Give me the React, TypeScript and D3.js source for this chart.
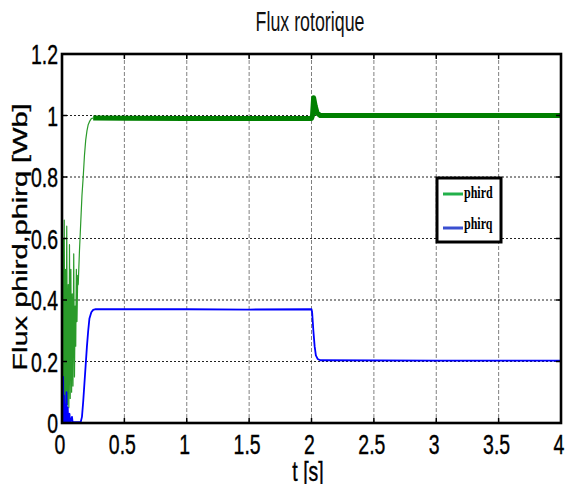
import React from "react";
import { scaleLinear, line } from "d3";

const width = 565;
const height = 484;

// t [s] / flux [Wb]
const phirdT = [0, 0.004, 0.008, 0.013, 0.018, 0.023, 0.028, 0.033, 0.038, 0.044, 0.05, 0.055, 0.06, 0.066, 0.071, 0.077, 0.082, 0.088, 0.094, 0.1, 0.105, 0.11, 0.115, 0.12, 0.126, 0.13, 0.14, 0.15, 0.16, 0.17, 0.18, 0.19, 0.2, 0.21, 0.22, 0.235, 0.25];
const phirdV = [0.72, 0.05, 0.6, 0.02, 0.66, 0.04, 0.5, 0.03, 0.64, 0.06, 0.45, 0.05, 0.58, 0.08, 0.5, 0.1, 0.42, 0.12, 0.55, 0.15, 0.38, 0.25, 0.5, 0.33, 0.48, 0.45, 0.56, 0.65, 0.74, 0.8, 0.87, 0.92, 0.95, 0.97, 0.98, 0.99, 0.992];
const phirdSteadyT = [0.25, 0.5, 1, 1.5, 2.0, 2.008, 2.017, 2.03, 2.045, 2.07, 2.5, 3, 3.5, 4];
const phirdSteadyV = [0.992, 0.991, 0.99, 0.99, 0.99, 1.0, 1.058, 1.03, 1.008, 1.0, 1.0, 1.0, 1.0, 1.0];

const phirqT = [0, 0.003, 0.006, 0.009, 0.012, 0.016, 0.02, 0.025, 0.03, 0.036, 0.04, 0.046, 0.05, 0.06, 0.065, 0.08, 0.085, 0.15, 0.16, 0.17, 0.18, 0.19, 0.2, 0.21, 0.22, 0.235, 0.25, 0.27, 1, 1.5, 2.0, 2.005, 2.015, 2.025, 2.035, 2.05, 2.07, 3, 4];
const phirqV = [0, 0.12, 0.0, 0.15, 0.01, 0.09, 0, 0.06, 0, 0.1, 0, 0.05, 0, 0.03, 0, 0.02, 0.003, 0.003, 0.02, 0.07, 0.13, 0.19, 0.25, 0.3, 0.34, 0.36, 0.368, 0.37, 0.37, 0.369, 0.37, 0.36, 0.3, 0.25, 0.22, 0.208, 0.204, 0.203, 0.203];

const xTicks = [0, 0.5, 1, 1.5, 2, 2.5, 3, 3.5, 4];
const yTicks = [0, 0.2, 0.4, 0.6, 0.8, 1, 1.2];

const seriesNames = ["phird", "phirq"];
const legendColors = ["#22b04a", "#3a4fd0"];

const margin = { top: 54, right: 4, bottom: 61, left: 62 };

const zip = (ts: number[], vs: number[]) => ts.map((t, i) => [t, vs[i]] as [number, number]);

export default function App() {
  const x = scaleLinear().domain([0, 4]).range([margin.left, width - margin.right]);
  const y = scaleLinear().domain([0, 1.2]).range([height - margin.bottom, margin.top]);
  const path = line<[number, number]>()
    .x((d) => x(d[0]))
    .y((d) => y(d[1]));

  const x0 = x(0), x1 = x(4), y0 = y(0), y1 = y(1.2);
  const tick = 5;
  const sans = "'Liberation Sans', Arial, sans-serif";

  return (
    <svg
      width={width}
      height={height}
      style={{ position: "absolute", left: 0, top: 0, background: "#fff" }}
    >
      <defs>
        <clipPath id="plot">
          <rect x={x0} y={y1} width={x1 - x0} height={y0 - y1} />
        </clipPath>
      </defs>

      {/* grid */}
      {xTicks.slice(1, -1).map((t) => (
        <line key={"gx" + t} x1={x(t)} x2={x(t)} y1={y1} y2={y0} stroke="#808080" strokeDasharray="4,2" strokeWidth={1} />
      ))}
      {yTicks.slice(1, -1).map((t) => (
        <line key={"gy" + t} x1={x0} x2={x1} y1={y(t)} y2={y(t)} stroke="#222" strokeDasharray="2,2" strokeWidth={1} />
      ))}

      {/* data */}
      <g clipPath="url(#plot)" fill="none" strokeLinejoin="round">
        <path d={path(zip(phirdT, phirdV)) || ""} stroke="#2a9a2a" strokeWidth={1.2} />
        <path d={path(zip(phirdSteadyT, phirdSteadyV)) || ""} stroke="#008000" strokeWidth={5} />
        <path d={path(zip(phirqT, phirqV)) || ""} stroke="#0000ff" strokeWidth={1.8} />
      </g>

      {/* frame and ticks */}
      <rect x={x0} y={y1} width={x1 - x0} height={y0 - y1} fill="none" stroke="#000" strokeWidth={2.6} />
      {xTicks.map((t) => (
        <g key={"tx" + t} stroke="#000" strokeWidth={1.5}>
          <line x1={x(t)} x2={x(t)} y1={y0} y2={y0 - tick} />
          <line x1={x(t)} x2={x(t)} y1={y1} y2={y1 + tick} />
        </g>
      ))}
      {yTicks.map((t) => (
        <g key={"ty" + t} stroke="#000" strokeWidth={1.5}>
          <line x1={x0} x2={x0 + tick} y1={y(t)} y2={y(t)} />
          <line x1={x1} x2={x1 - tick} y1={y(t)} y2={y(t)} />
        </g>
      ))}

      {/* tick labels */}
      <g fontFamily={sans} fontSize={27} fill="#000" stroke="#000" strokeWidth={0.4}>
        {xTicks.map((t) => (
          <text key={"lx" + t} transform={`translate(${x(t) - 2},454) scale(0.72,1)`} textAnchor="middle">
            {String(t)}
          </text>
        ))}
        {yTicks.map((t) => (
          <text key={"ly" + t} transform={`translate(58,${y(t) + 10}) scale(0.72,1)`} textAnchor="end">
            {String(t)}
          </text>
        ))}
      </g>

      {/* title and axis labels */}
      <text transform="translate(310,31) scale(0.66,1)" textAnchor="middle" fontFamily={sans} fontSize={27} fill="#111">
        Flux rotorique
      </text>
      <text transform="translate(308,481) scale(0.72,1)" textAnchor="middle" fontFamily={sans} fontSize={27} fill="#000" stroke="#000" strokeWidth={0.4}>
        t [s]
      </text>
      <text
        transform="translate(27,237) scale(1,1.45) rotate(-90)"
        textAnchor="middle"
        fontFamily={sans}
        fontSize={20}
        fill="#000"
        stroke="#000"
        strokeWidth={0.3}
      >
        Flux phird,phirq [Wb]
      </text>

      {/* legend */}
      <g>
        <rect x={437} y={178} width={64} height={64} fill="#fff" stroke="#000" strokeWidth={3} />
        {seriesNames.map((name, i) => (
          <g key={name}>
            <line x1={443} x2={463} y1={194 + i * 34} y2={194 + i * 34} stroke={legendColors[i]} strokeWidth={3} />
            <text
              transform={`translate(464,${198 + i * 31}) scale(0.75,1)`}
              fontFamily="'Liberation Serif', 'Times New Roman', serif"
              fontWeight="bold"
              fontSize={16}
              fill="#000"
            >
              {name}
            </text>
          </g>
        ))}
      </g>
    </svg>
  );
}
